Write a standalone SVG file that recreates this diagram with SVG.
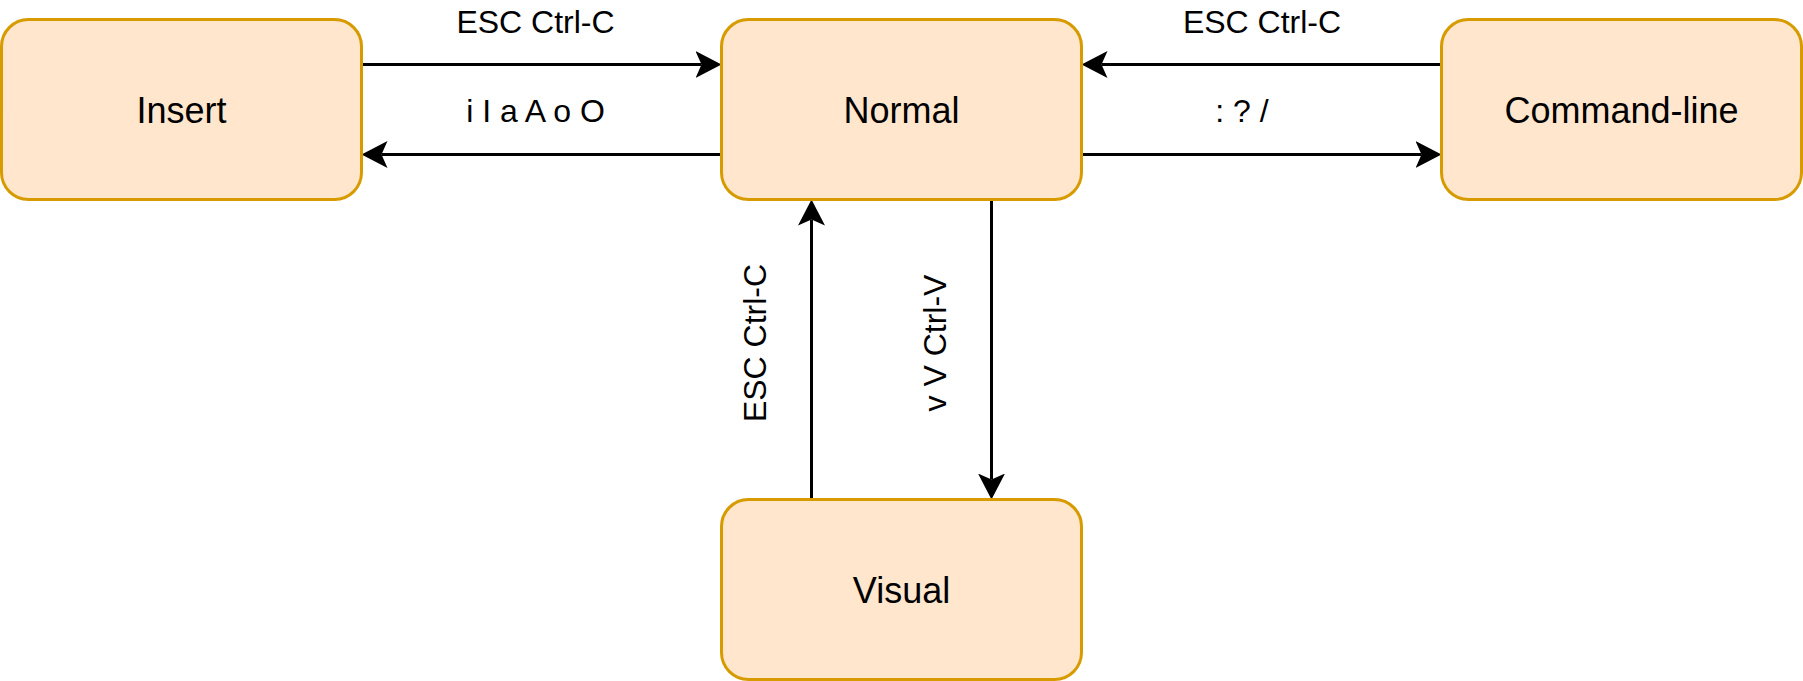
<svg xmlns="http://www.w3.org/2000/svg" width="1803" height="681" viewBox="0 0 1803 681">
  <style>
    .node rect { fill: #ffe6cc; stroke: #d79b00; stroke-width: 3; }
    .node text { font-family: "Liberation Sans", Arial, Helvetica, sans-serif; font-size: 36px; fill: #000; text-anchor: middle; }
    .edge { stroke: #000; stroke-width: 3; fill: none; marker-end: url(#arrow); }
    .lbl { font-family: "Liberation Sans", Arial, Helvetica, sans-serif; font-size: 32px; fill: #000; text-anchor: middle; }
  </style>
  <defs>
    <marker id="arrow" markerUnits="userSpaceOnUse" viewBox="0 0 26 27" markerWidth="26" markerHeight="27" refX="6" refY="13.5" orient="auto">
      <path d="M0,0 L26,13.5 L0,27 L6,13.5 Z" fill="#000"/>
    </marker>
  </defs>
  <rect width="1803" height="681" fill="#fff"/>

  <g id="connectors">
    <line class="edge" x1="361.5" y1="64.5" x2="701.5" y2="64.5"/>
    <line class="edge" x1="721.5" y1="154.5" x2="381.5" y2="154.5"/>
    <line class="edge" x1="1441.5" y1="64.5" x2="1101.5" y2="64.5"/>
    <line class="edge" x1="1081.5" y1="154.5" x2="1421.5" y2="154.5"/>
    <line class="edge" x1="811.5" y1="499.5" x2="811.5" y2="219.5"/>
    <line class="edge" x1="991.5" y1="199.5" x2="991.5" y2="479.5"/>
    <text class="lbl" x="535.5" y="33">ESC Ctrl-C</text>
    <text class="lbl" x="535.5" y="122">i I a A o O</text>
    <text class="lbl" x="1262" y="33">ESC Ctrl-C</text>
    <text class="lbl" x="1242" y="122">: ? /</text>
    <text class="lbl" transform="translate(766,343) rotate(-90)">ESC Ctrl-C</text>
    <text class="lbl" transform="translate(946,343) rotate(-90)">v V Ctrl-V</text>
  </g>

  <g id="insert" class="node">
    <rect x="1.5" y="19.5" width="360" height="180" rx="27" ry="27"/>
    <text x="181.5" y="122.5">Insert</text>
  </g>
  <g id="normal" class="node">
    <rect x="721.5" y="19.5" width="360" height="180" rx="27" ry="27"/>
    <text x="901.5" y="122.5">Normal</text>
  </g>
  <g id="command-line" class="node">
    <rect x="1441.5" y="19.5" width="360" height="180" rx="27" ry="27"/>
    <text x="1621.5" y="122.5">Command-line</text>
  </g>
  <g id="visual" class="node">
    <rect x="721.5" y="499.5" width="360" height="180" rx="27" ry="27"/>
    <text x="901.5" y="602.5">Visual</text>
  </g>
</svg>
